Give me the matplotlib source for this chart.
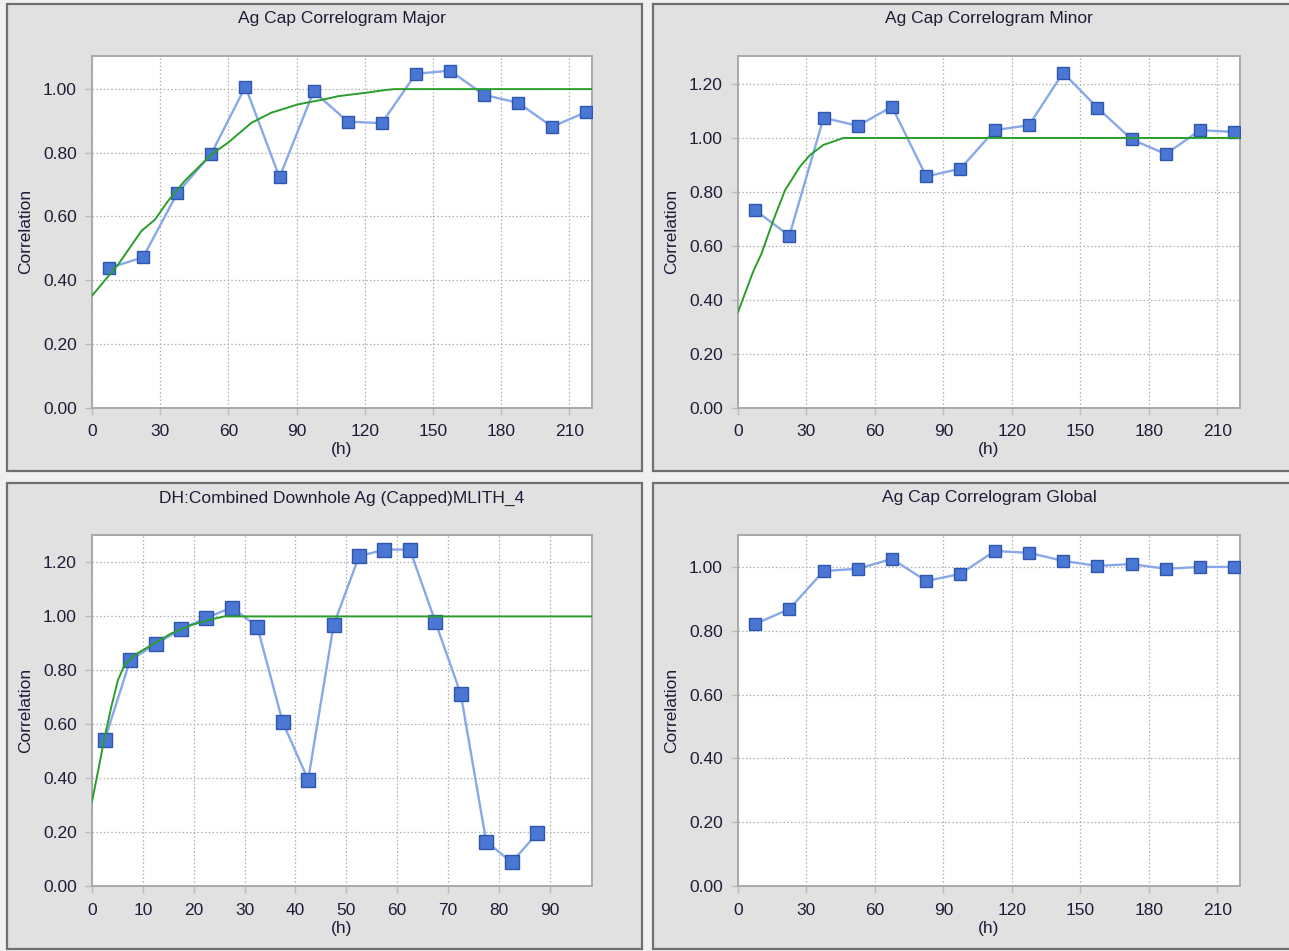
import matplotlib
matplotlib.use("Agg")
import matplotlib.pyplot as plt
from matplotlib.patches import Rectangle

plt.rcParams['font.family'] = ['Liberation Sans', 'DejaVu Sans']

# ---------------- data ----------------
lags_15 = [7.5, 22.5, 37.5, 52.5, 67.5, 82.5, 97.5, 112.5, 127.5,
           142.5, 157.5, 172.5, 187.5, 202.5, 217.5]
lags_5 = [2.5, 7.5, 12.5, 17.5, 22.5, 27.5, 32.5, 37.5, 42.5, 47.5,
          52.5, 57.5, 62.5, 67.5, 72.5, 77.5, 82.5, 87.5]

major_corr = [0.438, 0.472, 0.673, 0.797, 1.008, 0.723, 0.993, 0.898, 0.893,
              1.048, 1.058, 0.982, 0.957, 0.882, 0.928]
major_model_h = [0, 11.6, 21.8, 27.7, 33.5, 40.8, 52.6, 59.9, 70.1, 78.9,
                 90.6, 102.3, 108.5, 119.9, 129.0, 133.0, 220]
major_model_c = [0.351, 0.450, 0.555, 0.590, 0.649, 0.712, 0.795, 0.832, 0.894,
                 0.926, 0.952, 0.968, 0.978, 0.988, 0.997, 1.0, 1.0]

minor_corr = [0.732, 0.637, 1.075, 1.045, 1.116, 0.857, 0.886, 1.029, 1.047,
              1.242, 1.112, 0.995, 0.940, 1.029, 1.022]
minor_model_h = [0, 6.6, 10.3, 15.5, 20.6, 27.1, 31.5, 37.4, 46.2, 220]
minor_model_c = [0.354, 0.503, 0.571, 0.695, 0.806, 0.893, 0.936, 0.974, 1.0, 1.0]

downhole_corr = [0.542, 0.838, 0.897, 0.953, 0.995, 1.033, 0.962, 0.607, 0.394,
                 0.968, 1.223, 1.248, 1.248, 0.980, 0.712, 0.165, 0.088, 0.195]
downhole_model_h = [0, 1.5, 2.5, 3.8, 5.1, 6.4, 8.4, 11.7, 15.6, 19.5, 23.5,
                    26.0, 98.3]
downhole_model_c = [0.313, 0.456, 0.554, 0.665, 0.764, 0.820, 0.857, 0.894,
                    0.937, 0.968, 0.989, 1.0, 1.0]

global_corr = [0.821, 0.868, 0.987, 0.994, 1.025, 0.956, 0.978, 1.050, 1.044,
               1.019, 1.003, 1.009, 0.994, 1.000, 1.000]

titles = ["Ag Cap Correlogram Major", "Ag Cap Correlogram Minor",
          "DH:Combined Downhole Ag (Capped)MLITH_4", "Ag Cap Correlogram Global"]
y_label = "Correlation"
x_label = "(h)"

# ---------------- styling ----------------
W, H = 1289, 951
FIG_BG = '#f0f0f0'
PANEL_BG = '#e1e1e1'
PANEL_EDGE = '#6f6f6f'
GRID_C = '#b0b0b0'
SPINE_C = '#a9a9a9'
TEXT_C = '#1d1d38'
LINE_BLUE = '#89a8e8'
MARK_FACE = '#4a76d4'
MARK_EDGE = '#2d56ad'
MODEL_GREEN = '#2a9e2a'
FS = 12.5

fig = plt.figure(figsize=(W / 100, H / 100), dpi=100, facecolor=FIG_BG)


def frac(x0, y0, x1, y1):
    """pixel box (top-left origin) -> figure fraction [l, b, w, h]"""
    return [x0 / W, 1 - y1 / H, (x1 - x0) / W, (y1 - y0) / H]


# panel frames
panels = [(7, 4, 642, 471), (653, 4, 1292, 471),
          (7, 483, 642, 949), (653, 483, 1292, 949)]
for (x0, y0, x1, y1) in panels:
    l, b, w, h = frac(x0, y0, x1, y1)
    fig.patches.append(Rectangle((l, b), w, h, transform=fig.transFigure,
                                 facecolor=PANEL_BG, edgecolor=PANEL_EDGE,
                                 linewidth=1.6, zorder=-10))

axes_boxes = [(92, 56, 592, 407.5), (738, 56, 1240, 407.5),
              (92, 535, 592, 886), (738, 535, 1240, 886)]


def make_axes(box, title, xlim, ylim, xticks, yticks):
    ax = fig.add_axes(frac(*box))
    ax.set_zorder(1)
    ax.set_facecolor('white')
    ax.set_xlim(*xlim)
    ax.set_ylim(*ylim)
    ax.set_xticks(xticks)
    ax.set_yticks(yticks)
    ax.set_xticklabels([f"{t:g}" for t in xticks])
    ax.set_yticklabels([f"{t:.2f}" for t in yticks])
    ax.grid(True, color=GRID_C, linestyle=(0, (1.2, 1.8)), linewidth=0.9)
    ax.set_axisbelow(True)
    for s in ax.spines.values():
        s.set_color(SPINE_C)
        s.set_linewidth(1.4)
    ax.tick_params(axis='both', colors='#bcbcbc', labelcolor=TEXT_C,
                   labelsize=FS, length=5, width=1)
    ax.tick_params(axis='x', pad=7)
    ax.tick_params(axis='y', pad=6)
    x0, y0, x1, y1 = box
    cx = (x0 + x1) / 2
    fig.text(cx / W, 1 - (y0 - 37) / H, title, ha='center', va='center',
             fontsize=FS, color=TEXT_C, zorder=2)
    fig.text(cx / W, 1 - (y1 + 42) / H, x_label, ha='center', va='center',
             fontsize=FS, color=TEXT_C, zorder=2)
    fig.text((x0 - 66) / W, 1 - ((y0 + y1) / 2) / H, y_label, ha='center',
             va='center', rotation=90, fontsize=FS, color=TEXT_C, zorder=2)
    return ax


def draw_series(ax, h, c, msize):
    ax.plot(h, c, color=LINE_BLUE, linewidth=1.7, zorder=3)
    ax.plot(h, c, linestyle='none', marker='s', markersize=msize,
            markerfacecolor=MARK_FACE, markeredgecolor=MARK_EDGE,
            markeredgewidth=1.0, zorder=4)


def draw_model(ax, h, c):
    ax.plot(h, c, color=MODEL_GREEN, linewidth=1.4, zorder=5)


ticks_210 = [0, 30, 60, 90, 120, 150, 180, 210]
ticks_90 = [0, 10, 20, 30, 40, 50, 60, 70, 80, 90]
yt_10 = [0.0, 0.2, 0.4, 0.6, 0.8, 1.0]
yt_12 = [0.0, 0.2, 0.4, 0.6, 0.8, 1.0, 1.2]

ax1 = make_axes(axes_boxes[0], titles[0], (0, 220), (0, 1.104), ticks_210, yt_10)
draw_series(ax1, lags_15, major_corr, 8.5)
draw_model(ax1, major_model_h, major_model_c)

ax2 = make_axes(axes_boxes[1], titles[1], (0, 220), (0, 1.304), ticks_210, yt_12)
draw_series(ax2, lags_15, minor_corr, 8.5)
draw_model(ax2, minor_model_h, minor_model_c)

ax3 = make_axes(axes_boxes[2], titles[2], (0, 98.3), (0, 1.302), ticks_90, yt_12)
draw_series(ax3, lags_5, downhole_corr, 10)
draw_model(ax3, downhole_model_h, downhole_model_c)

ax4 = make_axes(axes_boxes[3], titles[3], (0, 220), (0, 1.10), ticks_210, yt_10)
draw_series(ax4, lags_15, global_corr, 8.5)

fig.savefig("out.png", dpi=100, facecolor=FIG_BG)
